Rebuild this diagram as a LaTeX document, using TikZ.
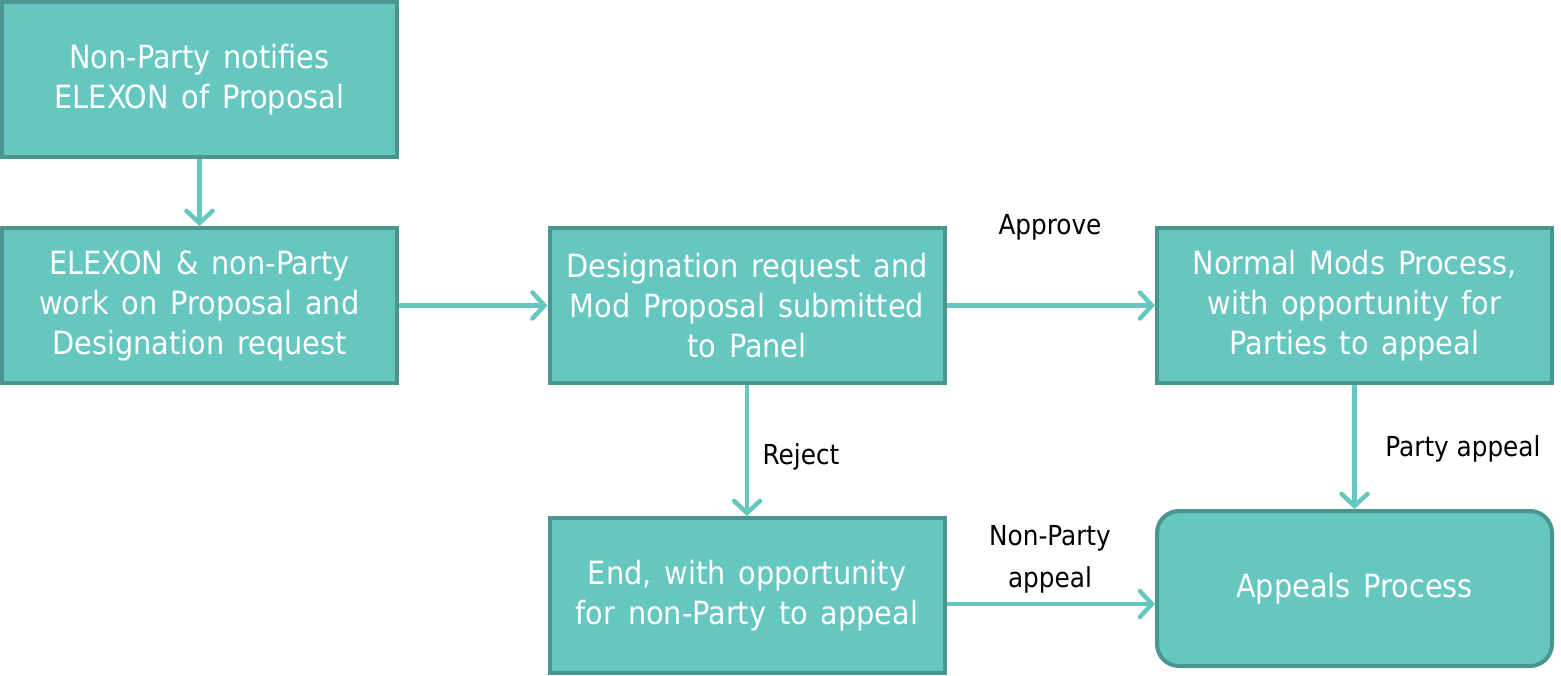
\documentclass[tikz,border=0pt]{standalone}
\usepackage{fontspec}
\setmainfont{DejaVu Sans Condensed}
\usetikzlibrary{arrows.meta}
\definecolor{boxfill}{HTML}{66C6C0}
\definecolor{boxline}{HTML}{4A958E}
\definecolor{arrowcol}{HTML}{66C6C0}
\newcommand{\boxtextfont}{\fontsize{32}{40}\selectfont\spaceskip=0.4em\relax}

\begin{document}
\begin{tikzpicture}[x=1pt, y=-1pt,
    procbox/.style={draw=boxline, fill=boxfill, line width=4pt, text=white,
        minimum width=395pt, minimum height=155pt, inner sep=0pt, align=center,
        font=\boxtextfont},
    roundbox/.style={procbox, rounded corners=22pt},
    flow/.style={draw=arrowcol, line width=4.5pt,
        -{Straight Barb[length=12pt, width=26pt, line cap=round]}},
    lbl/.style={text=black, align=center, font=\fontsize{27.5}{42}\selectfont}]
    \useasboundingbox (0,0) rectangle (1561,676);
    % Boxes
    \node[procbox] (notify) at (199.5,79.5) {Non-Party notifies\\ELEXON of Proposal};
    \node[procbox] (work) at (199.5,305.5) {ELEXON \& non-Party\\work on Proposal and\\Designation request};
    \node[procbox] (submit) at (747,305.5) {Designation request and\\Mod Proposal submitted\\to Panel};
    \node[procbox] (normal) at (1354.5,305.5) {Normal Mods Process,\\with opportunity for\\Parties to appeal};
    \node[procbox] (endbox) at (747,595.5) {End, with opportunity\\for non-Party to appeal};
    \node[roundbox] (appeals) at (1354.5,588.5) {Appeals Process};
    % Connectors
    \draw[flow] (notify) -- (work);
    \draw[flow] (work) -- (submit);
    \draw[flow] (submit) -- (normal);
    \draw[flow] (submit) -- (endbox);
    \draw[flow] (normal) -- (appeals);
    \draw[flow] (endbox.east |- 0,604) -- (appeals.west |- 0,604);
    % Labels
    \node[lbl] (approve) at (1050,227) {Approve};
    \node[lbl] (reject) at (801,457) {Reject};
    \node[lbl] (partyap) at (1463,449) {Party appeal};
    \node[lbl] (nonpartyap) at (1050,559) {Non-Party\\appeal};
\end{tikzpicture}
\end{document}
